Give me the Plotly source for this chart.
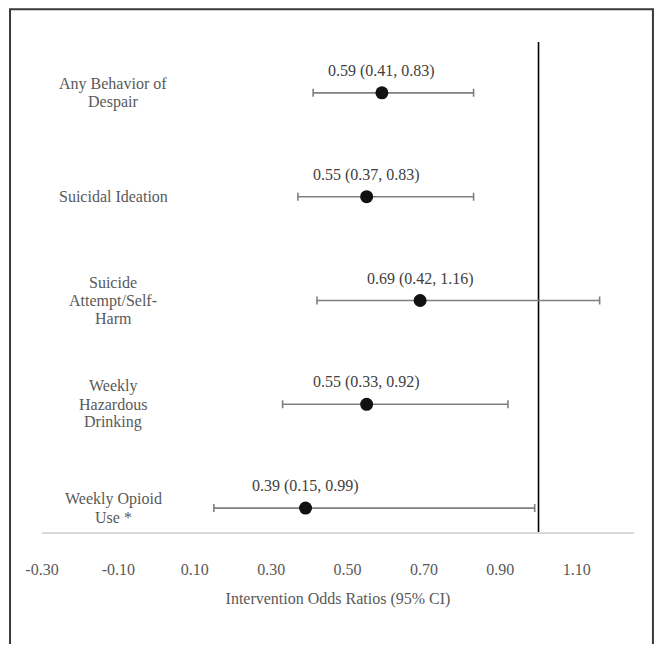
import plotly.graph_objects as go

categories = ["Any Behavior of<br>Despair", "Suicidal Ideation", "Suicide<br>Attempt/Self-<br>Harm",
              "Weekly<br>Hazardous<br>Drinking", "Weekly Opioid<br>Use *"]
odds = [0.59, 0.55, 0.69, 0.55, 0.39]
lower = [0.41, 0.37, 0.42, 0.33, 0.15]
upper = [0.83, 0.83, 1.16, 0.92, 0.99]
ypos = [5, 4, 3, 2, 1]
tick_vals = [-0.30, -0.10, 0.10, 0.30, 0.50, 0.70, 0.90, 1.10]
ref_value = 1.0

FONT = "Liberation Serif, Times New Roman, serif"
GRAY = "#595959"
FS = 16
LINE_H = 18

fig = go.Figure()
fig.add_trace(go.Scatter(
    x=odds, y=ypos, mode="markers",
    marker=dict(color="#111111", size=13),
    error_x=dict(type="data", symmetric=False,
                 array=[u - o for u, o in zip(upper, odds)],
                 arrayminus=[o - l for o, l in zip(odds, lower)],
                 color="#7f7f7f", thickness=1.6, width=4),
    showlegend=False, hoverinfo="skip"))

fig.add_vline(x=ref_value, line=dict(color="#000000", width=1.6), layer="below")

for c, o, l, u, y in zip(categories, odds, lower, upper, ypos):
    fig.add_annotation(x=o, y=y, xref="x", yref="y", text=f"{o:.2f} ({l:.2f}, {u:.2f})",
                       showarrow=False, yshift=22, font=dict(family=FONT, size=FS, color="#404040"))
    lines = c.split("<br>")
    n = len(lines)
    for i, ln in enumerate(lines):
        shift = ((n - 1) / 2 - i) * LINE_H
        fig.add_annotation(x=0.12, y=y, xref="paper", yref="y", text=ln, showarrow=False,
                           xanchor="center", yshift=shift, font=dict(family=FONT, size=FS, color=GRAY))

# outer frame
fig.add_shape(type="rect", xref="paper", yref="paper", x0=-0.054, x1=1.032, y0=-0.35, y1=1.067,
              line=dict(color="#3a3a3a", width=2))

fig.update_layout(
    width=654, height=636,
    margin=dict(l=34, r=28, t=34, b=112),
    paper_bgcolor="white", plot_bgcolor="white",
    font=dict(family=FONT, size=FS, color=GRAY),
    xaxis=dict(range=[-0.30, 1.25], tickvals=tick_vals, ticktext=[f"{v:.2f}" for v in tick_vals],
               showgrid=False, zeroline=False, showline=True, linecolor="#d9d9d9", linewidth=1.5,
               ticks="", ticklabelstandoff=22,
               title=dict(text="Intervention Odds Ratios (95% CI)", standoff=16,
                          font=dict(family=FONT, size=FS, color=GRAY))),
    yaxis=dict(range=[0.77, 5.49], visible=False, showgrid=False, zeroline=False),
)

fig.write_html("out.html")
